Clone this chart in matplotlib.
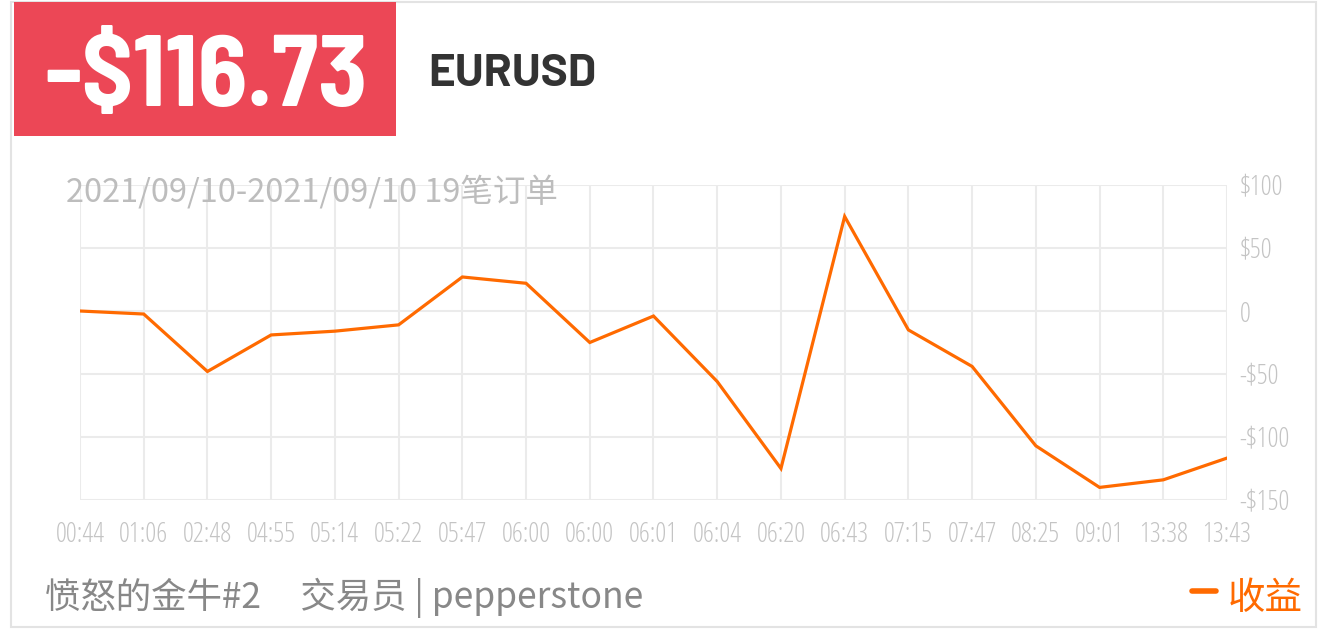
import matplotlib.pyplot as plt
import matplotlib.patches as patches
import numpy as np

times = ['00:44', '01:06', '02:48', '04:55', '05:14', '05:22', '05:47', '06:00', '06:00', '06:01',
         '06:04', '06:20', '06:43', '07:15', '07:47', '08:25', '09:01', '13:38', '13:43']
profit = [0, -2.4, -48, -19, -16, -11, 27, 22, -25, -4,
          -56, -125, 75, -15, -44, -107, -140, -134, -116.73]
yticks = [-150, -100, -50, 0, 50, 100]
ylabels = ['-$150', '-$100', '-$50', '0', '$50', '$100']

total = '-$116.73'
symbol = 'EURUSD'
subtitle = '2021/09/10-2021/09/10 19笔订单'
footer = '愤怒的金牛#2     交易员 | pepperstone'
legend_label = '收益'

cjk = ['Noto Sans CJK SC', 'DejaVu Sans']

fig = plt.figure(figsize=(13.2, 6.3), dpi=100)
W, H = 1320, 630

# card border
fig.patches.append(patches.Rectangle((11 / W, 3 / H), 1305 / W, 625 / H, transform=fig.transFigure,
                                     fill=False, edgecolor='#e3e3e3', linewidth=1.5))
# red box with total
fig.patches.append(patches.Rectangle((14 / W, 1 - 136 / H), 382 / W, 134 / H, transform=fig.transFigure,
                                     facecolor='#ec4756', edgecolor='none'))
fig.text(206 / W, 1 - 80 / H, total, color='white', fontsize=73, fontweight=700,
         family='Barlow Semi Condensed', ha='center', va='center')
fig.text(428 / W, 1 - 75 / H, symbol, color='#333333', fontsize=33, fontweight=700,
         family='Barlow', ha='left', va='center')

ax = fig.add_axes([80 / W, 130 / H, 1147 / W, 315 / H])
x = np.arange(len(times))
ax.plot(x, profit, color='#ff6a00', linewidth=2.3, solid_joinstyle='miter', zorder=3)
ax.set_xlim(0, len(times) - 1)
ax.set_ylim(-150, 100)
ax.set_xticks(x, times)
ax.set_yticks(yticks, ylabels)
ax.yaxis.tick_right()
ax.grid(True, color='#ebebeb', linewidth=1.5)
for s in ax.spines.values():
    s.set_visible(False)
ax.tick_params(length=0, colors='#c4c4c4', labelsize=19.5, pad=15)
ax.tick_params(axis='y', pad=9)
for lab in ax.get_xticklabels() + ax.get_yticklabels():
    lab.set_family('Open Sans')
    lab.set_stretch('condensed')
    lab.set_weight(300)

fig.text(66 / W, 1 - 192 / H, subtitle, color='#bdbdbd', fontsize=23.4, family=cjk, fontweight=300,
         ha='left', va='center', zorder=5)
fig.text(45 / W, 1 - 598 / H, footer, color='#888888', fontsize=25.5, family=cjk, fontweight=300,
         ha='left', va='center')
fig.lines.append(plt.Line2D([1192 / W, 1216 / W], [1 - 591 / H] * 2, transform=fig.transFigure,
                            color='#ff6a00', linewidth=4, solid_capstyle='round'))
fig.text(1228 / W, 1 - 598 / H, legend_label, color='#ff6a00', fontsize=27, family=cjk,
         ha='left', va='center')

fig.savefig('out.png', dpi=100, facecolor='white')
